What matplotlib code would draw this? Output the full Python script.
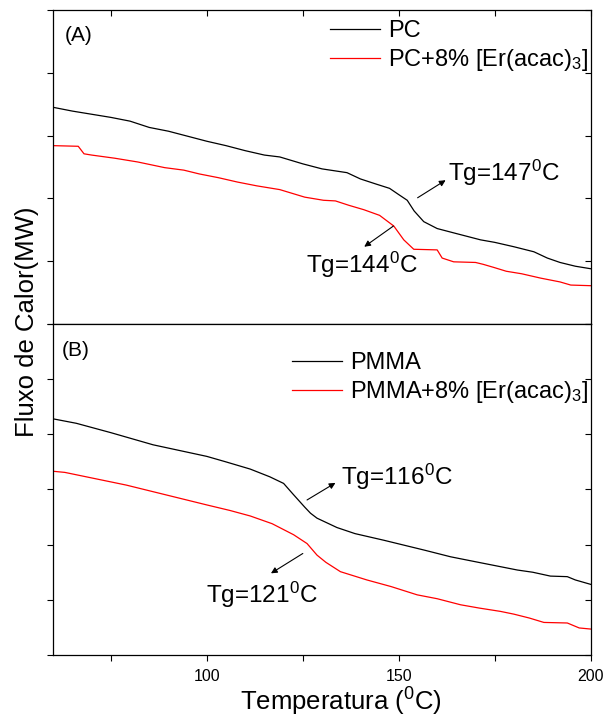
import matplotlib
matplotlib.use("Agg")
import matplotlib.pyplot as plt
from matplotlib.ticker import FixedLocator

plt.rcParams["font.family"] = ["Liberation Sans", "DejaVu Sans"]
plt.rcParams["mathtext.default"] = "regular"

# (A) PC and PC + 8% Er(acac)3
pc_temp = [60, 65, 70, 75, 80, 85, 90, 95, 100, 105, 110, 115, 119, 125, 130, 136.5,
           140, 144, 147.6, 150, 152.2, 154, 156.5, 160, 165, 171.3, 175, 180, 185.2,
           188.7, 192, 196, 200]
pc_flux = [3.45, 3.39, 3.34, 3.29, 3.23, 3.13, 3.07, 2.99, 2.91, 2.84, 2.76, 2.69,
           2.66, 2.55, 2.47, 2.41, 2.31, 2.23, 2.16, 2.06, 1.97, 1.80, 1.63, 1.52,
           1.44, 1.34, 1.30, 1.23, 1.15, 1.05, 0.98, 0.92, 0.88]

pcer_temp = [60, 66.5, 68, 70, 76, 82, 89, 94, 98, 103, 108, 113, 119, 125.5, 130.4,
             133.5, 137, 140.9, 145, 148.7, 151.3, 153.9, 160, 161.3, 164.3, 170, 172,
             174.8, 178, 182, 187, 192, 194.8, 200]
pcer_flux = [2.84, 2.83, 2.71, 2.69, 2.64, 2.58, 2.49, 2.45, 2.39, 2.33, 2.26, 2.20,
             2.14, 2.02, 1.97, 1.96, 1.89, 1.82, 1.73, 1.56, 1.34, 1.19, 1.18, 1.05,
             0.99, 0.98, 0.95, 0.90, 0.84, 0.80, 0.73, 0.67, 0.62, 0.61]

# (B) PMMA and PMMA + 8% Er(acac)3
pmma_temp = [60, 66, 75, 86, 100, 105, 111.3, 116.4, 120, 122.4, 125.5, 127, 128.7,
             133.9, 138.6, 146.1, 156.7, 163.5, 170, 180.9, 184.9, 189.5, 193.9, 196, 200]
pmma_flux = [4.28, 4.20, 4.03, 3.81, 3.60, 3.50, 3.37, 3.23, 3.11, 2.92, 2.68, 2.57,
             2.48, 2.31, 2.20, 2.08, 1.90, 1.78, 1.69, 1.54, 1.50, 1.43, 1.42, 1.36, 1.28]

pmmaer_temp = [60, 63, 79, 93, 100, 106, 111.3, 117, 122.6, 126.1, 128.7, 131, 134.8,
               141.7, 148, 154.8, 160, 166.1, 171, 176.5, 180, 184, 187.8, 193.9, 197, 200]
pmmaer_flux = [3.33, 3.31, 3.08, 2.84, 2.72, 2.62, 2.52, 2.38, 2.18, 2.02, 1.81, 1.68,
               1.51, 1.36, 1.24, 1.09, 1.02, 0.91, 0.85, 0.79, 0.74, 0.67, 0.59, 0.58,
               0.49, 0.47]

tg_labels_a = ["Tg=147$^{0}$C", "Tg=144$^{0}$C"]
tg_labels_b = ["Tg=116$^{0}$C", "Tg=121$^{0}$C"]

fig = plt.figure(figsize=(6.05, 7.2), dpi=100)
ax_a = fig.add_axes([0.0881, 0.55, 0.8883, 0.4361])
ax_b = fig.add_axes([0.0881, 0.0903, 0.8883, 0.4597])

LW = 0.9
ax_a.plot(pc_temp, pc_flux, color="black", lw=LW, label="PC")
ax_a.plot(pcer_temp, pcer_flux, color="#ff0000", lw=LW, label="PC+8% [Er(acac)$_{3}$]")
ax_b.plot(pmma_temp, pmma_flux, color="black", lw=LW, label="PMMA")
ax_b.plot(pmmaer_temp, pmmaer_flux, color="#ff0000", lw=LW, label="PMMA+8% [Er(acac)$_{3}$]")

ax_a.set_ylim(0, 5)
ax_b.set_ylim(0, 6)

arrow = dict(arrowstyle="-|>", color="black", lw=0.8, mutation_scale=9, shrinkA=0, shrinkB=0)
ax_a.annotate("", xy=(162.2, 2.29), xytext=(154.9, 2.01), arrowprops=arrow)
ax_a.annotate("", xy=(141.0, 1.23), xytext=(148.6, 1.56), arrowprops=arrow)
ax_a.text(162.9, 2.40, tg_labels_a[0], fontsize=17.5, va="center", ha="left")
ax_a.text(125.9, 0.94, tg_labels_a[1], fontsize=17.5, va="center", ha="left")

ax_b.annotate("", xy=(133.5, 3.12), xytext=(126.1, 2.81), arrowprops=arrow)
ax_b.annotate("", xy=(116.7, 1.48), xytext=(125.0, 1.84), arrowprops=arrow)
ax_b.text(135.0, 3.23, tg_labels_b[0], fontsize=17.5, va="center", ha="left")
ax_b.text(99.8, 1.09, tg_labels_b[1], fontsize=17.5, va="center", ha="left")

ax_a.text(0.022, 0.92, "(A)", transform=ax_a.transAxes, fontsize=15, va="center")
ax_b.text(0.016, 0.921, "(B)", transform=ax_b.transAxes, fontsize=15, va="center")

for ax, anchor in ((ax_a, (0.995, 0.967)), (ax_b, (0.995, 0.915))):
    ax.set_xlim(60, 200)
    ax.legend(loc="upper right", bbox_to_anchor=anchor, frameon=False, fontsize=17,
              handlelength=2.1, handletextpad=0.35, labelspacing=0.2, borderpad=0,
              borderaxespad=0)
    ax.xaxis.set_major_locator(FixedLocator([100, 150, 200]))
    ax.xaxis.set_minor_locator(FixedLocator([75, 125, 175]))
    ymax = int(ax.get_ylim()[1])
    ax.yaxis.set_major_locator(FixedLocator(list(range(0, ymax + 1))))
    ax.tick_params(axis="y", which="both", left=True, right=False, direction="out",
                   length=4, width=0.8, labelleft=False)
    for side in ("left", "right", "top", "bottom"):
        ax.spines[side].set_linewidth(0.9)
    ax_r = ax.secondary_yaxis("right")
    ax_r.set_yticks(list(range(0, ymax + 1)))
    ax_r.tick_params(direction="in", length=4, width=0.8, labelright=False)
    ax_r.spines["right"].set_visible(False)

ax_a.tick_params(axis="x", which="both", bottom=False, top=True, direction="in",
                 length=4, width=0.8, labelbottom=False, labeltop=False)
ax_b.tick_params(axis="x", which="both", bottom=True, top=False, direction="out",
                 length=4, width=0.8, labelsize=11.5, pad=6)

fig.text(0.0446, 0.553, "Fluxo de Calor(MW)", rotation=90, fontsize=18.5,
         ha="center", va="center")
fig.text(0.564, 0.013, "Temperatura ($^{0}$C)", fontsize=18.5, ha="center", va="baseline")

fig.savefig("out.png", dpi=100)
